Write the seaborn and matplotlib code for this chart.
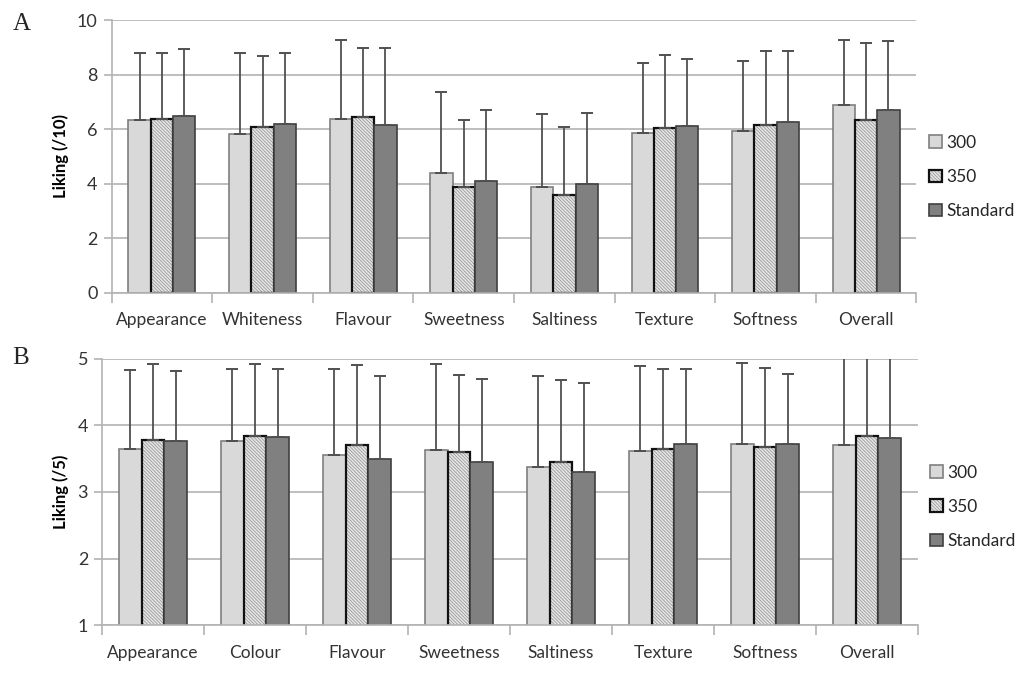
import numpy as np
import pandas as pd
import seaborn as sns
import matplotlib.pyplot as plt
from matplotlib.patches import Patch

# panel A: liking on a 10-point scale (mean and upper SD whisker top)
attrs_a = ['Appearance', 'Whiteness', 'Flavour', 'Sweetness',
           'Saltiness', 'Texture', 'Softness', 'Overall']
mean_a_300 = [6.33, 5.84, 6.38, 4.38, 3.88, 5.87, 5.92, 6.89]
mean_a_350 = [6.39, 6.08, 6.46, 3.89, 3.57, 6.05, 6.17, 6.32]
mean_a_std = [6.50, 6.19, 6.15, 4.11, 3.99, 6.11, 6.26, 6.69]
top_a_300 = [8.78, 8.78, 9.29, 7.36, 6.55, 8.42, 8.52, 9.29]
top_a_350 = [8.78, 8.69, 8.97, 6.34, 6.09, 8.74, 8.87, 9.16]
top_a_std = [8.95, 8.81, 8.97, 6.70, 6.58, 8.58, 8.87, 9.25]

# panel B: liking on a 5-point scale
attrs_b = ['Appearance', 'Colour', 'Flavour', 'Sweetness',
           'Saltiness', 'Texture', 'Softness', 'Overall']
mean_b_300 = [3.65, 3.76, 3.56, 3.63, 3.37, 3.61, 3.72, 3.71]
mean_b_350 = [3.78, 3.84, 3.71, 3.60, 3.45, 3.65, 3.68, 3.84]
mean_b_std = [3.76, 3.82, 3.50, 3.45, 3.30, 3.72, 3.72, 3.81]
top_b_300 = [4.83, 4.85, 4.84, 4.92, 4.74, 4.89, 4.94, 5.10]
top_b_350 = [4.92, 4.92, 4.90, 4.76, 4.68, 4.84, 4.86, 5.10]
top_b_std = [4.81, 4.85, 4.74, 4.70, 4.63, 4.84, 4.77, 5.10]

samples = ['300', '350', 'Standard']

sns.set_theme(style='white')
plt.rcParams['font.family'] = ['Lato', 'DejaVu Sans']
plt.rcParams['hatch.linewidth'] = 0.5

kGrid = '#b3b3b3'
kText = '#333333'
kHatchColor = (0.55, 0.55, 0.55, 1.0)

styles = [
    dict(facecolor='#d9d9d9', edgecolor='#7f7f7f', linewidth=1.2, hatch=None),
    dict(facecolor='#e6e6e6', edgecolor='#111111', linewidth=1.6,
         hatch='\\' * 10),
    dict(facecolor='#808080', edgecolor='#404040', linewidth=1.2, hatch=None),
]


def longTable(attrs, means):
    rows = []
    for s, vals in zip(samples, means):
        for a, v in zip(attrs, vals):
            rows.append({'attr': a, 'sample': s, 'score': v})
    return pd.DataFrame(rows)


def stylePatch(p, st):
    p.set_facecolor(st['facecolor'])
    p.set_edgecolor(st['edgecolor'])
    p.set_linewidth(st['linewidth'])
    if st['hatch']:
        p.set_hatch(st['hatch'])
        p._hatch_color = kHatchColor


def drawPanel(ax, attrs, means, tops, ylim, yticks, ylabel, legend_y):
    df = longTable(attrs, means)
    sns.barplot(data=df, x='attr', y='score', hue='sample', order=attrs,
                hue_order=samples,
                palette=[st['facecolor'] for st in styles],
                errorbar=None, width=0.665, ax=ax, zorder=2, legend=False)

    for cont, st, mv, tv in zip(ax.containers, styles, means, tops):
        xs = []
        for bar in cont:
            stylePatch(bar, st)
            xs.append(bar.get_x() + bar.get_width() / 2)
        up = np.array(tv) - np.array(mv)
        ax.errorbar(xs, mv, yerr=[np.zeros(len(up)), up], fmt='none',
                    ecolor='#505050', elinewidth=1.3, capsize=4,
                    capthick=1.4, zorder=3, clip_on=True)

    ax.set_ylim(*ylim)
    ax.set_xlim(-0.5, len(attrs) - 0.5)
    ax.set_yticks(yticks)
    ax.yaxis.grid(True, color=kGrid, linewidth=1.2, zorder=0)
    ax.set_axisbelow(True)

    # category boundaries as ticks, labels centred between them
    ax.set_xticks(np.arange(-0.5, len(attrs), 1.0))
    ax.set_xticklabels([])
    ax.set_xticks(np.arange(len(attrs)), minor=True)
    ax.set_xticklabels(attrs, minor=True, fontsize=12.5, color=kText)
    ax.tick_params(axis='x', which='major', length=7, width=1.2,
                   color=kGrid, direction='out', bottom=True)
    ax.tick_params(axis='x', which='minor', length=0, pad=14)
    ax.tick_params(axis='y', length=6, width=1.2, color=kGrid,
                   direction='out', left=True, labelsize=13,
                   labelcolor=kText, pad=4)

    sns.despine(ax=ax, top=True, right=True)
    for side in ('left', 'bottom'):
        ax.spines[side].set_color(kGrid)
        ax.spines[side].set_linewidth(1.2)

    ax.set_xlabel('')
    ax.set_ylabel(ylabel, fontsize=12, fontweight='bold', color='black',
                  labelpad=6)

    handles = []
    for st in styles:
        h = Patch(label='x')
        stylePatch(h, st)
        handles.append(h)
    ax.legend(handles, samples, loc='center left',
              bbox_to_anchor=(1.0, legend_y), frameon=False, fontsize=12.5,
              handlelength=0.75, handleheight=0.75, handletextpad=0.25,
              labelspacing=1.05, borderaxespad=0.3)


fig = plt.figure(figsize=(10.24, 6.73), dpi=100)
ax_a = fig.add_axes([0.109, 0.565, 0.786, 0.405])
ax_b = fig.add_axes([0.0996, 0.071, 0.797, 0.396])

drawPanel(ax_a, attrs_a, [mean_a_300, mean_a_350, mean_a_std],
          [top_a_300, top_a_350, top_a_std], (0, 10), [0, 2, 4, 6, 8, 10],
          'Liking (/10)', 0.425)
drawPanel(ax_b, attrs_b, [mean_b_300, mean_b_350, mean_b_std],
          [top_b_300, top_b_350, top_b_std], (1, 5), [1, 2, 3, 4, 5],
          'Liking (/5)', 0.444)

fig.text(0.012, 0.965, 'A', fontsize=18, family='Liberation Serif',
         ha='left', va='center')
fig.text(0.012, 0.468, 'B', fontsize=18, family='Liberation Serif',
         ha='left', va='center')

fig.savefig('out.png', dpi=100, facecolor='white')
